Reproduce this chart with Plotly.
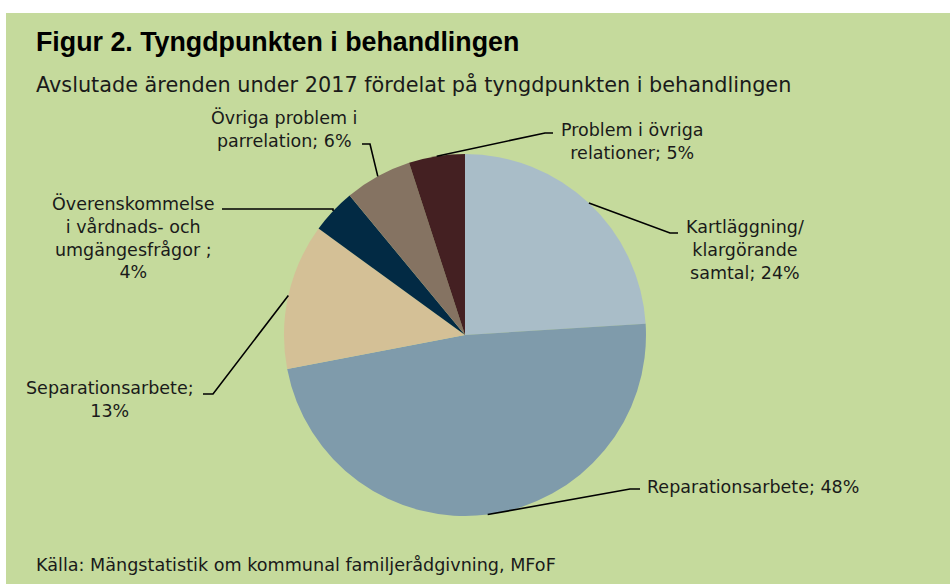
import math
import plotly.graph_objects as go

# ---- data ----
categories = [
    "Kartläggning/ klargörande samtal",
    "Reparationsarbete",
    "Separationsarbete",
    "Överenskommelse i vårdnads- och umgängesfrågor",
    "Övriga problem i parrelation",
    "Problem i övriga relationer",
]
shares = [24, 48, 13, 4, 6, 5]
label_texts = [
    "Kartläggning/<br>klargörande<br>samtal; 24%",
    "Reparationsarbete; 48%",
    "Separationsarbete;<br>13%",
    "Överenskommelse<br>i vårdnads- och<br>umgängesfrågor ;<br>4%",
    "Övriga problem i<br>parrelation; 6%",
    "Problem i övriga<br>relationer; 5%",
]
colors = ["#a9bdc8", "#7f9bab", "#d4c096", "#022a44", "#857362", "#442022"]

title = "Figur 2. Tyngdpunkten i behandlingen"
subtitle = "Avslutade ärenden under 2017 fördelat på tyngdpunkten i behandlingen"
source = "Källa: Mängstatistik om kommunal familjerådgivning, MFoF"

# ---- layout geometry (pixels) ----
W, H = 950, 584
cx, cy, R = 465, 335, 181
GREEN = "#c5da9c"
FONT = "DejaVu Sans"

def px(x):
    return x / W

def py(y):
    return 1 - y / H

# elbow point, end of horizontal tick, label anchor (x, y), xanchor
label_pos = [
    ((670, 233), (678, 233), (745, 250), "center"),
    ((630, 489), (640, 489), (645, 487), "left"),
    ((213, 394), (203, 394), (110, 399), "center"),
    ((333, 209), (222, 209), (133, 237), "center"),
    ((370, 144), (362, 144), (284, 129), "center"),
    ((545, 133), (553, 133), (632, 142), "center"),
]

fig = go.Figure()
fig.add_trace(go.Pie(
    labels=categories,
    values=shares,
    sort=False,
    direction="clockwise",
    rotation=0,
    marker=dict(colors=colors, line=dict(width=0)),
    textinfo="none",
    hoverinfo="label+percent",
    showlegend=False,
    domain=dict(x=[px(cx - R), px(cx + R)], y=[py(cy + R), py(cy - R)]),
))

shapes = [
    dict(type="rect", xref="paper", yref="paper", x0=px(6), x1=1.0, y0=0.0, y1=py(13),
         fillcolor=GREEN, line=dict(width=0), layer="below"),
]
annotations = []
total = sum(shares)
cum = 0
for val, txt, (elbow, tick, anchor, xa) in zip(shares, label_texts, label_pos):
    mid = (cum + val / 2) / total * 2 * math.pi
    cum += val
    sx = cx + R * math.sin(mid)
    sy = cy - R * math.cos(mid)
    path = "M {},{} L {},{} L {},{}".format(
        px(sx), py(sy), px(elbow[0]), py(elbow[1]), px(tick[0]), py(tick[1]))
    shapes.append(dict(type="path", xref="paper", yref="paper", path=path,
                       line=dict(color="black", width=1.6)))
    annotations.append(dict(
        x=px(anchor[0]), y=py(anchor[1]), xref="paper", yref="paper",
        text=txt, showarrow=False, xanchor=xa, yanchor="middle", align="center",
        font=dict(family=FONT, size=17.5, color="#1a1a1a"),
    ))

annotations += [
    dict(x=px(34), y=py(42), xref="paper", yref="paper", text="<b>" + title + "</b>",
         showarrow=False, xanchor="left", yanchor="middle",
         font=dict(family="Liberation Sans", size=26.8, color="black")),
    dict(x=px(34), y=py(84), xref="paper", yref="paper", text=subtitle,
         showarrow=False, xanchor="left", yanchor="middle",
         font=dict(family=FONT, size=20.8, color="#1a1a1a")),
    dict(x=px(34), y=py(565), xref="paper", yref="paper", text=source,
         showarrow=False, xanchor="left", yanchor="middle",
         font=dict(family=FONT, size=17.6, color="#1a1a1a")),
]

fig.update_layout(
    width=W, height=H,
    margin=dict(l=0, r=0, t=0, b=0),
    paper_bgcolor="white",
    plot_bgcolor="white",
    shapes=shapes,
    annotations=annotations,
)

fig.write_html("out.html")
